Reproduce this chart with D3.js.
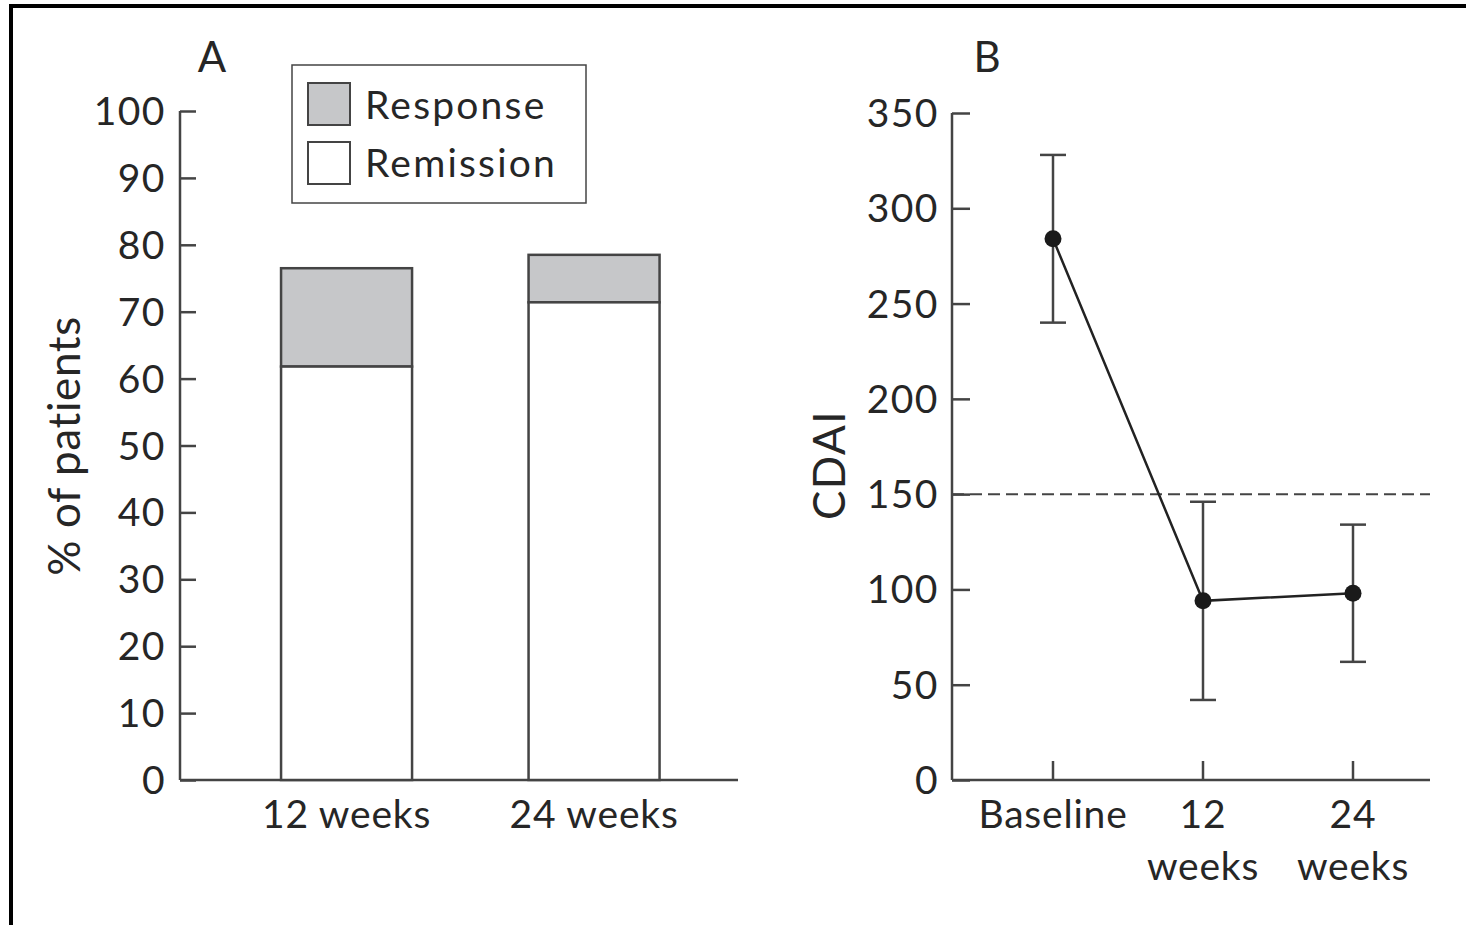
<!DOCTYPE html>
<html>
<head>
<meta charset="utf-8">
<script src="https://cdn.jsdelivr.net/npm/d3@7"></script>
<style>
  body { margin: 0; background: #fff; }
  text { font-family: Lato, 'Open Sans', sans-serif; fill: #262626; }
</style>
</head>
<body>
<svg width="1466" height="925"></svg>
<script>
// panel A data
const weeksA = ['12 weeks', '24 weeks']
const remission = [61.8, 71.4]
const response = [76.5, 78.5]
const ticksA = [0, 10, 20, 30, 40, 50, 60, 70, 80, 90, 100]

// panel B data
const timepoints = ['Baseline', '12 weeks', '24 weeks']
const cdaiMean = [284, 94, 98]
const cdaiErr = [44, 52, 36]
const ticksB = [0, 50, 100, 150, 200, 250, 300, 350]
const cdaiCut = 150

const axisColor = '#444'
const greyFill = '#c6c7c9'

let svg = d3.select('svg')

// frame (top and left edges only)
svg.append('path')
    .attr('d', 'M11,925 V6 H1466')
    .attr('fill', 'none')
    .attr('stroke', '#000')
    .attr('stroke-width', 4)

// ---------- Panel A ----------
let yA = d3.scaleLinear().domain([0, 100]).range([780, 111])
let xA = d3.scaleBand().domain(weeksA).range([180, 738])
    .paddingInner(0.4707).paddingOuter(0.3626).align(0.563)

let gA = svg.append('g')

gA.append('g')
    .attr('transform', 'translate(180,0)')
    .call(d3.axisRight(yA).tickValues(ticksA).tickSize(16).tickFormat(''))
    .call(g => g.select('.domain').attr('d', 'M0,' + yA(100) + 'V' + yA(0)))
    .call(g => g.selectAll('path, line').attr('stroke', axisColor).attr('stroke-width', 2.5))

gA.selectAll('.ylabA')
    .data(ticksA)
    .enter().append('text')
    .attr('x', 166)
    .attr('y', d => yA(d) + 14)
    .attr('text-anchor', 'end')
    .attr('font-size', 39)
    .attr('letter-spacing', 1.5)
    .text(d => d)

gA.append('line')
    .attr('x1', 180).attr('x2', 738)
    .attr('y1', yA(0)).attr('y2', yA(0))
    .attr('stroke', axisColor).attr('stroke-width', 2.5)

// response (grey) part above remission
gA.selectAll('.resp')
    .data(weeksA)
    .enter().append('rect')
    .attr('x', d => xA(d))
    .attr('width', xA.bandwidth())
    .attr('y', (d, i) => yA(response[i]))
    .attr('height', (d, i) => yA(remission[i]) - yA(response[i]))
    .attr('fill', greyFill)
    .attr('stroke', axisColor).attr('stroke-width', 2.5)

gA.selectAll('.remi')
    .data(weeksA)
    .enter().append('rect')
    .attr('x', d => xA(d))
    .attr('width', xA.bandwidth())
    .attr('y', (d, i) => yA(remission[i]))
    .attr('height', (d, i) => yA(0) - yA(remission[i]))
    .attr('fill', '#fff')
    .attr('stroke', axisColor).attr('stroke-width', 2.5)

gA.selectAll('.xlabA')
    .data(weeksA)
    .enter().append('text')
    .attr('x', d => xA(d) + xA.bandwidth() / 2)
    .attr('y', 828)
    .attr('text-anchor', 'middle')
    .attr('font-size', 39)
    .attr('letter-spacing', 0.8)
    .text(d => d)

gA.append('text')
    .attr('transform', 'translate(80,446) rotate(-90)')
    .attr('text-anchor', 'middle')
    .attr('font-size', 44)
    .attr('letter-spacing', 0.6)
    .text('% of patients')

gA.append('text')
    .attr('x', 212).attr('y', 72)
    .attr('text-anchor', 'middle')
    .attr('font-size', 42)
    .text('A')

// legend
let legend = gA.append('g')
legend.append('rect')
    .attr('x', 292).attr('y', 65).attr('width', 294).attr('height', 138)
    .attr('fill', '#fff').attr('stroke', axisColor).attr('stroke-width', 1.5)
let legItems = [['Response', greyFill], ['Remission', '#fff']]
legItems.forEach((d, i) => {
  legend.append('rect')
      .attr('x', 308).attr('y', 83 + i * 59).attr('width', 42).attr('height', 42)
      .attr('fill', d[1]).attr('stroke', axisColor).attr('stroke-width', 2)
  legend.append('text')
      .attr('x', 365).attr('y', 119 + i * 58)
      .attr('font-size', 39)
      .attr('letter-spacing', 2.2)
      .text(d[0])
})

// ---------- Panel B ----------
let yB = d3.scaleLinear().domain([0, 350]).range([780, 113])
let xB = d3.scalePoint().domain(timepoints).range([1053, 1353])

let gB = svg.append('g')

gB.append('g')
    .attr('transform', 'translate(952,0)')
    .call(d3.axisRight(yB).tickValues(ticksB).tickSize(18).tickFormat(''))
    .call(g => g.select('.domain').attr('d', 'M0,' + yB(350) + 'V' + yB(0)))
    .call(g => g.selectAll('path, line').attr('stroke', axisColor).attr('stroke-width', 2.5))

gB.selectAll('.ylabB')
    .data(ticksB)
    .enter().append('text')
    .attr('x', 939)
    .attr('y', d => yB(d) + 14)
    .attr('text-anchor', 'end')
    .attr('font-size', 39)
    .attr('letter-spacing', 1.5)
    .text(d => d)

gB.append('line')
    .attr('x1', 952).attr('x2', 1430)
    .attr('y1', yB(0)).attr('y2', yB(0))
    .attr('stroke', axisColor).attr('stroke-width', 2.5)

gB.selectAll('.xtick')
    .data(timepoints)
    .enter().append('line')
    .attr('x1', d => xB(d)).attr('x2', d => xB(d))
    .attr('y1', yB(0)).attr('y2', yB(0) - 19)
    .attr('stroke', axisColor).attr('stroke-width', 2.5)

let xLabB = gB.selectAll('.xlabB')
    .data(timepoints)
    .enter().append('text')
    .attr('x', d => xB(d))
    .attr('y', 828)
    .attr('text-anchor', 'middle')
    .attr('font-size', 39)
    .attr('letter-spacing', 0.8)
xLabB.each(function(d) {
  let parts = d.split(' ')
  let t = d3.select(this)
  parts.forEach((p, i) => {
    t.append('tspan').attr('x', xB(d)).attr('dy', i === 0 ? 0 : 52).text(p)
  })
})

// remission cut-off line
gB.append('line')
    .attr('x1', 952).attr('x2', 1430)
    .attr('y1', yB(cdaiCut)).attr('y2', yB(cdaiCut))
    .attr('stroke', axisColor).attr('stroke-width', 2)
    .attr('stroke-dasharray', '12,6')

// error bars
timepoints.forEach((d, i) => {
  let x = xB(d)
  let top = yB(cdaiMean[i] + cdaiErr[i])
  let bot = yB(cdaiMean[i] - cdaiErr[i])
  gB.append('line').attr('x1', x).attr('x2', x).attr('y1', top).attr('y2', bot)
      .attr('stroke', axisColor).attr('stroke-width', 2.5)
  gB.append('line').attr('x1', x - 13).attr('x2', x + 13).attr('y1', top).attr('y2', top)
      .attr('stroke', axisColor).attr('stroke-width', 2.5)
  gB.append('line').attr('x1', x - 13).attr('x2', x + 13).attr('y1', bot).attr('y2', bot)
      .attr('stroke', axisColor).attr('stroke-width', 2.5)
})

let line = d3.line()
    .x((d, i) => xB(timepoints[i]))
    .y(d => yB(d))

gB.append('path')
    .datum(cdaiMean)
    .attr('d', line)
    .attr('fill', 'none')
    .attr('stroke', '#222')
    .attr('stroke-width', 2.5)

gB.selectAll('.pt')
    .data(cdaiMean)
    .enter().append('circle')
    .attr('cx', (d, i) => xB(timepoints[i]))
    .attr('cy', d => yB(d))
    .attr('r', 8.5)
    .attr('fill', '#1a1a1a')

gB.append('text')
    .attr('transform', 'translate(845,465) rotate(-90)')
    .attr('text-anchor', 'middle')
    .attr('font-size', 44)
    .attr('letter-spacing', 1.5)
    .text('CDAI')

gB.append('text')
    .attr('x', 987).attr('y', 72)
    .attr('text-anchor', 'middle')
    .attr('font-size', 42)
    .text('B')
</script>
</body>
</html>
